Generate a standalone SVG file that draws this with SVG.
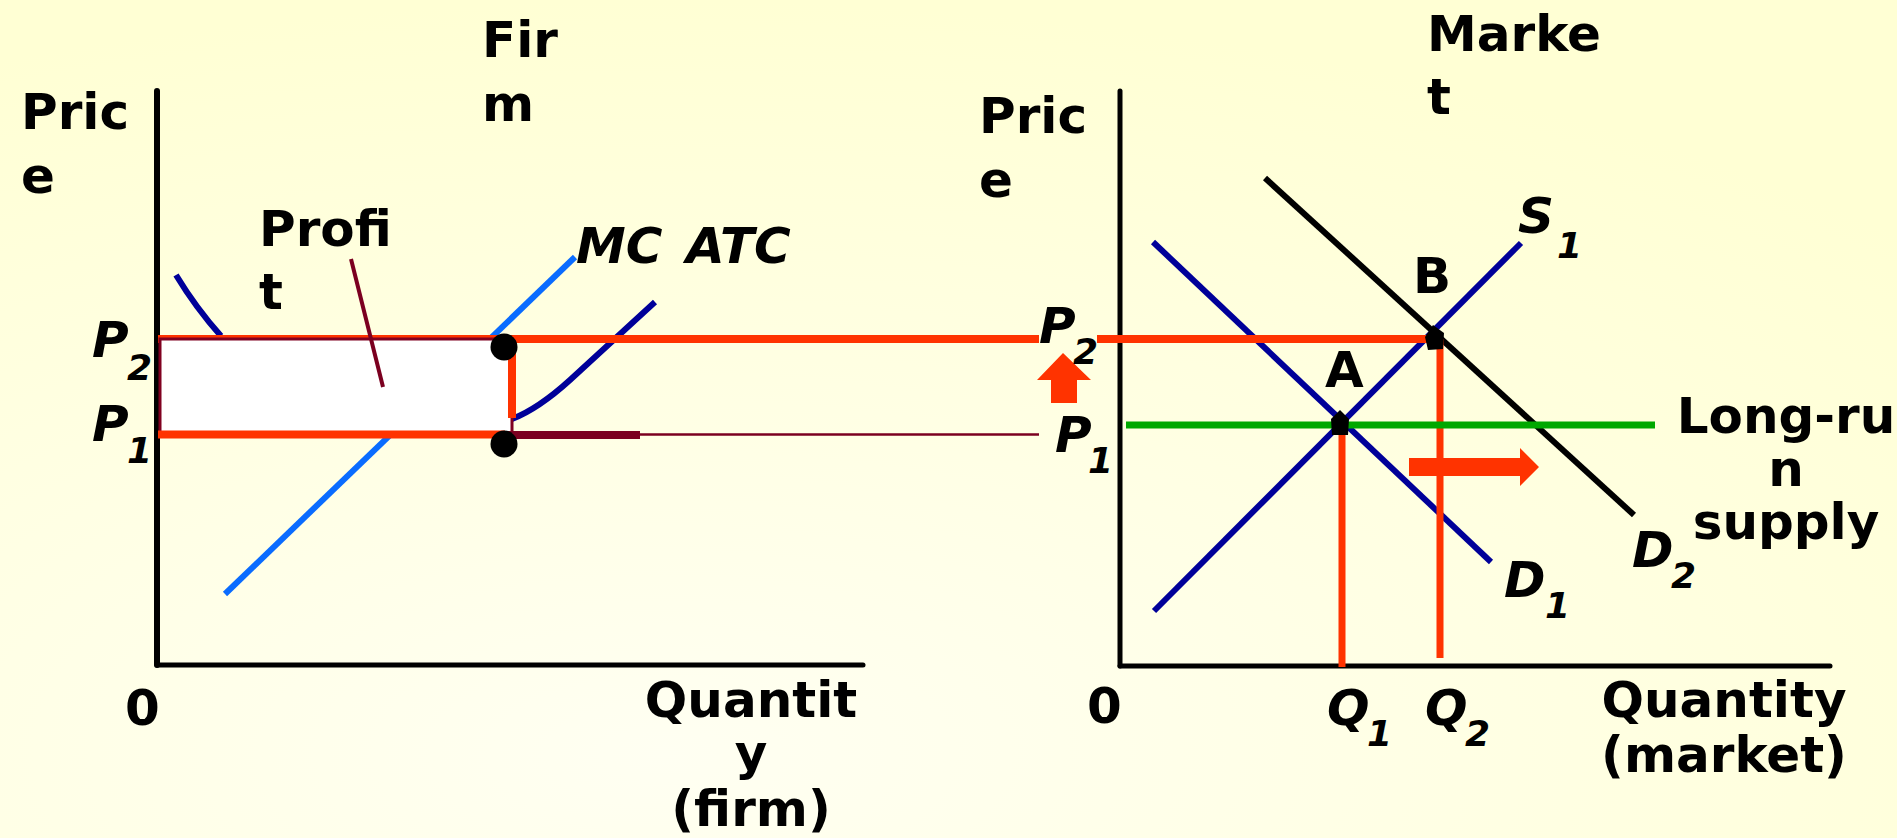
<svg xmlns="http://www.w3.org/2000/svg" width="1897" height="838" viewBox="0 0 1897 838">
<style>
.t{font-family:"DejaVu Sans","Liberation Sans",sans-serif;font-weight:bold;font-size:50px;fill:#000}
.i{font-style:italic}
.s{font-size:36px}
.c{text-anchor:middle}
.ax{stroke:#000;stroke-width:5;fill:none;stroke-linecap:round}
.red{stroke:#FF3300;stroke-width:8;fill:none}
.dk{stroke:#000099;stroke-width:6;fill:none}
.mr{stroke:#7B0020;fill:none}
</style>
<defs>
<radialGradient id="bg" cx="0.35" cy="0.9" r="0.9">
<stop offset="0" stop-color="#FFFFF2"/>
<stop offset="1" stop-color="#FFFFD4"/>
</radialGradient>
</defs>
<rect width="1897" height="838" fill="url(#bg)"/>

<g id="firm-axes">
<line class="ax" x1="157" y1="91" x2="157" y2="665" style="stroke-width:6"/>
<line class="ax" x1="157" y1="665" x2="863" y2="665"/>
</g>
<g id="market-axes">
<line class="ax" x1="1120" y1="91" x2="1120" y2="666"/>
<line class="ax" x1="1120" y1="666" x2="1830" y2="666"/>
</g>

<g id="connectors">
<line id="mc" x1="575" y1="257" x2="225" y2="594" stroke="#0A6CFF" stroke-width="6"/>
<path id="atc-left" class="dk" d="M176,275 Q196,308 221,336"/>
<path id="atc-right" class="dk" d="M512,419 C530,412 548,400 570,380 L655,302"/>
<line class="red" x1="158" y1="339" x2="1039" y2="339"/>
</g>

<g id="profit-box">
<rect x="160" y="339" width="352" height="95" fill="#FFFFFF" stroke="#800020" stroke-width="3"/>
<line class="mr" x1="351" y1="259" x2="383" y2="387" stroke-width="4"/>
</g>

<g id="firm-lines">
<line class="red" x1="512" y1="343" x2="512" y2="418"/>
<line class="red" x1="158" y1="434.5" x2="505" y2="434.5"/>
<line class="mr" x1="505" y1="435" x2="640" y2="435" stroke-width="8"/>
<line class="mr" x1="640" y1="434.5" x2="1039" y2="434.5" stroke-width="2.5"/>
<circle cx="504" cy="347" r="13.5" fill="#000"/>
<circle cx="504" cy="444" r="13.5" fill="#000"/>
</g>

<g id="market-lines">
<line x1="1265" y1="178" x2="1634" y2="515" stroke="#000" stroke-width="6"/>
<line class="dk" x1="1153" y1="242" x2="1491" y2="562"/>
<line class="dk" x1="1154" y1="611" x2="1521" y2="243"/>
<line class="red" x1="1097" y1="339" x2="1436" y2="339"/>
<line class="red" x1="1342" y1="425" x2="1342" y2="667" style="stroke-width:7"/>
<line class="red" x1="1440" y1="339" x2="1440" y2="658" style="stroke-width:7"/>
<line x1="1126" y1="425" x2="1655" y2="425" stroke="#00A800" stroke-width="7"/>
<polygon points="1409,458 1520,458 1520,448 1539,467 1520,486 1520,476 1409,476" fill="#FF3300"/>
<polygon points="1063,353 1091,380 1077,380 1077,403 1051,403 1051,380 1037,380" fill="#FF3300"/>
<polygon id="dotA" points="1340,410 1349,419 1348,435 1332,435 1331,419" fill="#000"/>
<polygon id="dotB" points="1433,325 1444,333 1443,349 1428,350 1425,337" fill="#000"/>
</g>

<g id="labels-firm">
<text class="t" x="21" y="129">Pric</text>
<text class="t" x="21" y="193">e</text>
<text class="t" x="482" y="57">Fir</text>
<text class="t" x="482" y="121">m</text>
<text class="t" x="259" y="246">Profi</text>
<text class="t" x="259" y="309">t</text>
<text class="t i" x="576" y="263">MC</text>
<text class="t i" x="686" y="263">ATC</text>
<text class="t i" x="92" y="357">P</text><text class="t i s" x="127" y="380">2</text>
<text class="t i" x="92" y="441">P</text><text class="t i s" x="127" y="463">1</text>
<text class="t" x="125" y="725">0</text>
<text class="t c" x="751" y="717">Quantit</text>
<text class="t c" x="751" y="770">y</text>
<text class="t c" x="751" y="826">(firm)</text>
</g>

<g id="labels-market">
<text class="t" x="979" y="133">Pric</text>
<text class="t" x="979" y="197">e</text>
<text class="t" x="1427" y="51">Marke</text>
<text class="t" x="1427" y="114">t</text>
<text class="t i" x="1039" y="343">P</text><text class="t i s" x="1073" y="364">2</text>
<text class="t i" x="1055" y="452">P</text><text class="t i s" x="1088" y="473">1</text>
<text class="t" x="1325" y="387">A</text>
<text class="t" x="1413" y="293">B</text>
<text class="t i" x="1518" y="233">S</text><text class="t i s" x="1557" y="258">1</text>
<text class="t i" x="1504" y="597">D</text><text class="t i s" x="1545" y="618">1</text>
<text class="t i" x="1632" y="567">D</text><text class="t i s" x="1671" y="588">2</text>
<text class="t i" x="1327" y="725">Q</text><text class="t i s" x="1367" y="746">1</text>
<text class="t i" x="1425" y="725">Q</text><text class="t i s" x="1465" y="746">2</text>
<text class="t" x="1087" y="723">0</text>
<text class="t c" x="1724" y="717">Quantity</text>
<text class="t c" x="1724" y="772">(market)</text>
<text class="t c" x="1786" y="433">Long-ru</text>
<text class="t c" x="1786" y="486">n</text>
<text class="t c" x="1786" y="539">supply</text>
</g>
</svg>
